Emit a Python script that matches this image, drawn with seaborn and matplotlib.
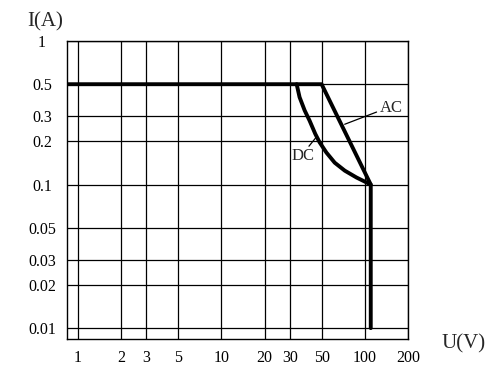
import matplotlib
matplotlib.use("Agg")
import matplotlib.pyplot as plt
import seaborn as sns
import pandas as pd
from matplotlib.ticker import FixedLocator, FixedFormatter, NullLocator

# ---- data ----
x_ticks = [1, 2, 3, 5, 10, 20, 30, 50, 100, 200]
x_tick_labels = ["1", "2", "3", "5", "10", "20", "30", "50", "100", "200"]
y_ticks = [0.01, 0.02, 0.03, 0.05, 0.1, 0.2, 0.3, 0.5, 1]
y_tick_labels = ["0.01", "0.02", "0.03", "0.05", "0.1", "0.2", "0.3", "0.5", "1"]

ac_u = [0.84, 50, 110, 110]
ac_i = [0.5, 0.5, 0.1, 0.01]
dc_u = [33.5, 35.1, 38.1, 41.2, 45.2, 48.4, 54.0, 61.7, 72.5, 87.5, 110]
dc_i = [0.5, 0.406, 0.328, 0.279, 0.225, 0.197, 0.167, 0.142, 0.125, 0.112, 0.1]

df = pd.concat([
    pd.DataFrame({"U": ac_u, "I": ac_i, "curve": "AC"}),
    pd.DataFrame({"U": dc_u, "I": dc_i, "curve": "DC"}),
], ignore_index=True)

sns.set_style("white")
plt.rcParams["font.family"] = ["Liberation Serif", "DejaVu Serif"]

fig = plt.figure(figsize=(4.94, 3.82), dpi=100)
ax = fig.add_axes([67/494, 1-339/382, 341/494, 298/382])

sns.lineplot(data=df, x="U", y="I", units="curve", estimator=None, sort=False,
             color="black", linewidth=2.8, ax=ax, legend=False)
for ln in ax.lines:
    ln.set_solid_joinstyle("round")

ax.set_xscale("log")
ax.set_yscale("log")
ax.set_xlim(0.84, 200)
ax.set_ylim(0.0084, 1)

ax.xaxis.set_major_locator(FixedLocator(x_ticks))
ax.xaxis.set_major_formatter(FixedFormatter(x_tick_labels))
ax.yaxis.set_major_locator(FixedLocator(y_ticks))
ax.yaxis.set_major_formatter(FixedFormatter(y_tick_labels))
ax.xaxis.set_minor_locator(NullLocator())
ax.yaxis.set_minor_locator(NullLocator())

ax.grid(True, which="major", color="black", linewidth=0.9)
ax.tick_params(axis="both", length=0, labelsize=11.5, colors="black")
ax.tick_params(axis="x", pad=8)
ax.tick_params(axis="y", pad=18)
for lab in ax.get_yticklabels():
    lab.set_horizontalalignment("center")

for s in ax.spines.values():
    s.set_visible(True)
    s.set_color("black")
    s.set_linewidth(1.0)

ax.set_xlabel("")
ax.set_ylabel("")

# annotations
ax.plot([72.4, 120.8], [0.263, 0.32], color="black", linewidth=0.9)
ax.text(128, 0.344, "AC", fontsize=12, ha="left", va="center")
ax.plot([45.9, 40.8], [0.214, 0.185], color="black", linewidth=0.9)
ax.text(37.0, 0.158, "DC", fontsize=12, ha="center", va="center")

fig.text(45/494, 1-22/382, "I(A)", fontsize=15, ha="center", va="center")
fig.text(464/494, 1-344/382, "U(V)", fontsize=15, ha="center", va="center")

fig.savefig("out.png", dpi=100, facecolor="white")
